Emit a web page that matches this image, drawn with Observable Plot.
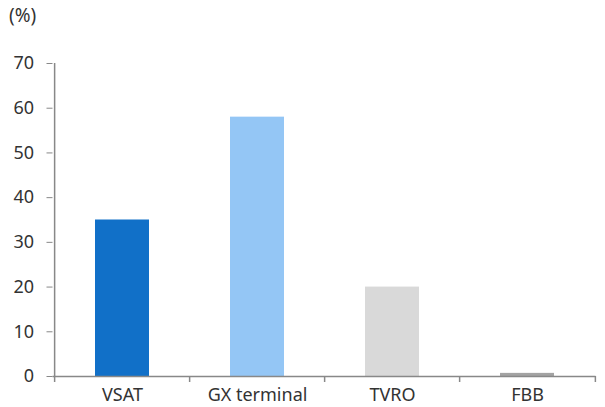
<!DOCTYPE html>
<html>
<head>
<meta charset="utf-8">
<script src="https://cdn.jsdelivr.net/npm/d3@7"></script>
<script src="https://cdn.jsdelivr.net/npm/@observablehq/plot@0.6"></script>
<style>
  body { margin: 0; background: #fff; font-family: "Noto Sans", sans-serif; }
  #wrap { position: relative; width: 605px; height: 407px; }
  #unit { position: absolute; left: 9px; top: 2px; font-size: 19px; color: #333; }
</style>
</head>
<body>
<div id="wrap"><div id="unit">(%)</div></div>
<script>
const categories = ["VSAT", "GX terminal", "TVRO", "FBB"];
const values = [35, 58, 20, 0.7];
const colors = ["#1170C8", "#94C6F5", "#D9D9D9", "#A3A3A3"];
const yTicks = [0, 10, 20, 30, 40, 50, 60, 70];

const data = categories.map((c, i) => ({category: c, value: values[i], color: colors[i]}));

const W = 605, H = 407, mL = 52.5, mR = 9.5, mT = 63, mB = 31;
const step = (W - mL - mR) / categories.length;
const axisColor = "#888";

const chart = Plot.plot({
  width: W,
  height: H,
  marginLeft: mL,
  marginRight: mR,
  marginTop: mT,
  marginBottom: mB,
  style: {fontFamily: '"Noto Sans", sans-serif', fontSize: "18px", color: "#333", background: "white"},
  x: {domain: categories, paddingInner: 0.6, paddingOuter: 0.3, label: null},
  y: {domain: [0, 70], label: null},
  marks: [
    Plot.barY(data, {x: "category", y: "value", fill: "color"}),
    Plot.axisY({ticks: yTicks, tickSize: 6, tickPadding: 13, stroke: axisColor, fill: "#333", label: null}),
    Plot.axisX({tickSize: 0, tickPadding: 12, fill: "#333", label: null}),
    Plot.ruleY([0], {stroke: axisColor, strokeWidth: 1.5}),
    Plot.ruleX([categories[0]], {dx: -step / 2, y1: 0, y2: 70, stroke: axisColor, strokeWidth: 1.5}),
    Plot.ruleX(categories, {x: d => d, dx: -step / 2, insetTop: H - mT - mB, insetBottom: -6, stroke: axisColor, strokeWidth: 1.5}),
    Plot.ruleX([categories[categories.length - 1]], {dx: step / 2, insetTop: H - mT - mB, insetBottom: -6, stroke: axisColor, strokeWidth: 1.5})
  ]
});
document.getElementById("wrap").appendChild(chart);
</script>
</body>
</html>
